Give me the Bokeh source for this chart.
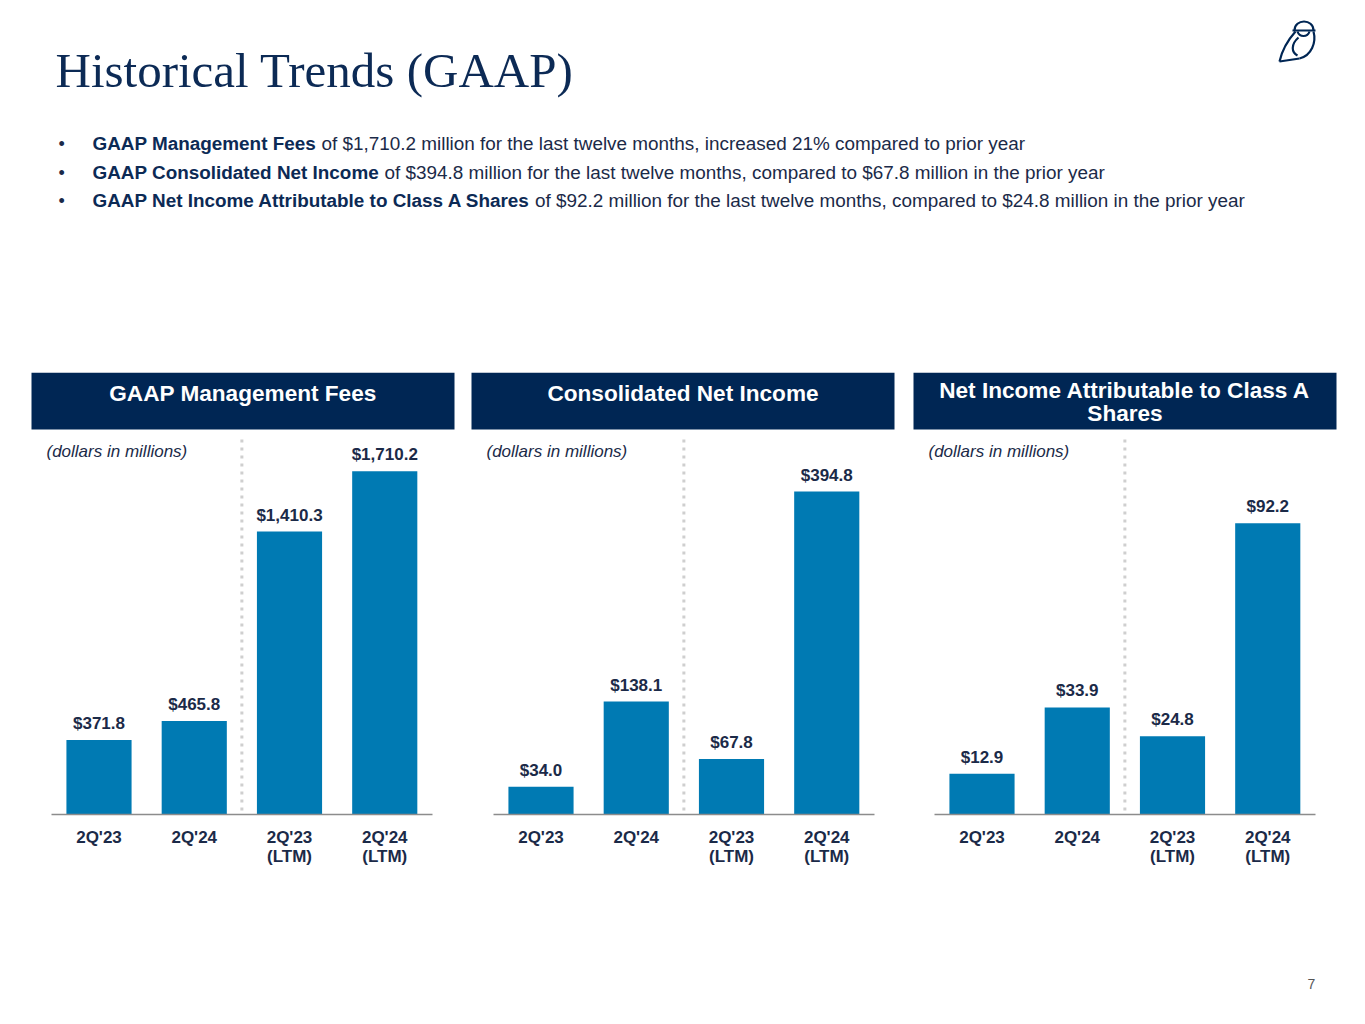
from bokeh.plotting import figure
from bokeh.models import (ColumnDataSource, Range1d, LabelSet, Label, BoxAnnotation, FixedTicker)
from bokeh.core.properties import value
from bokeh.layouts import column, row
from bokeh.embed import file_html
from bokeh.resources import INLINE

# ---------------- data ----------------
categories = ["2Q'23", "2Q'24", "2Q'23\n(LTM)", "2Q'24\n(LTM)"]
mgmt_fees = [371.8, 465.8, 1410.3, 1710.2]
net_income = [34.0, 138.1, 67.8, 394.8]
class_a_income = [12.9, 33.9, 24.8, 92.2]
panel_titles = ["GAAP Management Fees", "Consolidated Net Income",
                "Net Income Attributable to Class A\nShares"]
unit_note = "(dollars in millions)"
page_title = "Historical Trends (GAAP)"
bullet_bold = ["GAAP Management Fees",
               "GAAP Consolidated Net Income",
               "GAAP Net Income Attributable to Class A Shares"]
bullet_rest = ["of $1,710.2 million for the last twelve months, increased 21% compared to prior year",
               "of $394.8 million for the last twelve months, compared to $67.8 million in the prior year",
               "of $92.2 million for the last twelve months, compared to $24.8 million in the prior year"]
page_number = "7"

# ---------------- style ----------------
NAVY = "#002654"
TITLE_NAVY = "#0c2a55"
TEXT = "#1b2a48"
BAR = "#007ab3"
AXIS = "#8c8c8c"
SANS = "Liberation Sans"
W = 1357

# ---------------- top block ----------------
top = figure(width=W, height=372, x_range=Range1d(0, W), y_range=Range1d(372, 0),
             x_axis_location=None, y_axis_location=None, toolbar_location=None,
             output_backend="svg", title=None, min_border=0, outline_line_color=None)
top.grid.visible = False
top.add_layout(Label(x=55, y=70, text=page_title, text_font="Liberation Serif",
                     text_font_size="49px", text_color=TITLE_NAVY, text_baseline="middle"))
bullet_y = [143, 172, 200]
rest_x = [321.0, 384.0, 534.5]
for by, bb, br, rx in zip(bullet_y, bullet_bold, bullet_rest, rest_x):
    top.add_layout(Label(x=58, y=by, text="\u2022", text_font=SANS, text_font_size="18px",
                         text_color=TEXT, text_baseline="middle"))
    top.add_layout(Label(x=92, y=by, text=bb, text_font=SANS, text_font_size="18.9px",
                         text_font_style="bold", text_color=TITLE_NAVY, text_baseline="middle"))
    top.add_layout(Label(x=rx, y=by, text=br, text_font=SANS, text_font_size="18.9px",
                         text_color=TEXT, text_baseline="middle"))

# logo (decorative owl)
LW = 2.2
top.bezier(x0=1294, y0=30, x1=1313, y1=30, cx0=1294, cy0=18, cx1=1313, cy1=18,
           line_color=NAVY, line_width=LW)
top.segment(x0=1292, y0=30, x1=1315, y1=30, line_color=NAVY, line_width=LW)
top.bezier(x0=1297, y0=31, x1=1309, y1=31, cx0=1299, cy0=37, cx1=1307, cy1=37,
           line_color=NAVY, line_width=LW)
top.bezier(x0=1295, y0=31, x1=1279, y1=61, cx0=1287, cy0=40, cx1=1281, cy1=52,
           line_color=NAVY, line_width=LW)
top.bezier(x0=1313, y0=31, x1=1299, y1=58, cx0=1316, cy0=42, cx1=1311, cy1=55,
           line_color=NAVY, line_width=LW)
top.segment(x0=1279, y0=61, x1=1299, y1=58, line_color=NAVY, line_width=LW)
top.bezier(x0=1298, y0=37, x1=1297, y1=55, cx0=1290, cy0=44, cx1=1291, cy1=52,
           line_color=NAVY, line_width=LW)

PITCH = 95.25        # pixels per category
BASE_Y = 814         # axis line (screen y)
TOP_Y = 372          # top of panel frame (screen y)
positions = list(range(len(categories)))


def panel(values, y_end, col_left, col_right, first_center, head_left, head_right,
          title, title_y, note_x):
    width = col_right - col_left
    x0 = (col_left - first_center) / PITCH
    x1 = (col_right - first_center) / PITCH
    src = ColumnDataSource(dict(x=positions, val=values,
                                label=[f"${v:,.1f}" for v in values]))
    p = figure(width=width, height=528, x_range=Range1d(x0, x1), y_range=Range1d(0, y_end),
               y_axis_location=None, toolbar_location=None, output_backend="svg", title=None,
               min_border_left=0, min_border_right=0, min_border_top=0, min_border_bottom=86,
               outline_line_color=None)
    p.extra_x_ranges = {"px": Range1d(col_left, col_right)}
    p.extra_y_ranges = {"px": Range1d(BASE_Y, TOP_Y)}
    p.grid.visible = False
    # divider between quarterly and LTM bars
    p.segment(x0=1.5, x1=1.5, y0=439, y1=BASE_Y, y_range_name="px",
              line_color="#cfcfcf", line_width=3, line_dash="3 5")
    p.vbar(x="x", top="val", width=0.684, source=src, fill_color=BAR, line_color=None)
    p.add_layout(LabelSet(x="x", y="val", text="label", source=src, text_align="center",
                          text_baseline="alphabetic", y_offset=11, text_font=value(SANS),
                          text_font_style="bold", text_font_size="17px", text_color=TEXT))
    # header band
    p.add_layout(BoxAnnotation(left=head_left, right=head_right, top=TOP_Y, bottom=429,
                               x_range_name="px", y_range_name="px", fill_color=NAVY,
                               fill_alpha=1.0, line_color=None))
    p.add_layout(Label(x=(head_left + head_right) / 2, y=title_y, x_range_name="px",
                       y_range_name="px", text=title, text_align="center",
                       text_baseline="middle", text_color="white", text_font=SANS,
                       text_font_style="bold", text_font_size="22.6px", text_line_height=0.92))
    p.add_layout(Label(x=note_x, y=451, x_range_name="px", y_range_name="px", text=unit_note,
                       text_baseline="middle", text_font=SANS, text_font_style="italic",
                       text_font_size="17px", text_color=TEXT))
    ax = p.xaxis[0]
    ax.ticker = FixedTicker(ticks=positions)
    ax.major_label_overrides = {pos: cat for pos, cat in zip(positions, categories)}
    ax.bounds = (-0.5, len(categories) - 0.5)
    ax.axis_line_color = AXIS
    ax.axis_line_width = 1.5
    ax.major_tick_line_color = None
    ax.minor_tick_line_color = None
    ax.major_tick_out = 0
    ax.major_tick_in = 0
    ax.major_label_standoff = 13
    ax.major_label_text_font = SANS
    ax.major_label_text_font_style = "bold"
    ax.major_label_text_font_size = "17px"
    ax.major_label_text_color = TEXT
    ax.major_label_text_line_height = 1.05
    return p


p1 = panel(mgmt_fees, 2203, 0, 462, 98.5, 31, 454, panel_titles[0], 393, 46)
p2 = panel(net_income, 540.3, 462, 904, 540.5, 471, 894, panel_titles[1], 393, 486)
p3 = panel(class_a_income, 139.9, 904, W, 981.5, 913, 1336, panel_titles[2], 401, 928)

bottom = figure(width=W, height=116, x_range=Range1d(0, W), y_range=Range1d(1016, 900),
                x_axis_location=None, y_axis_location=None, toolbar_location=None,
                output_backend="svg", title=None, min_border=0, outline_line_color=None)
bottom.grid.visible = False
bottom.add_layout(Label(x=1311, y=983, text=page_number, text_align="center",
                        text_baseline="middle", text_font=SANS, text_font_size="14px",
                        text_color="#555555"))

layout = column(top, row(p1, p2, p3, spacing=0), bottom, spacing=0)

open("out.html", "w").write(file_html(layout, INLINE))
